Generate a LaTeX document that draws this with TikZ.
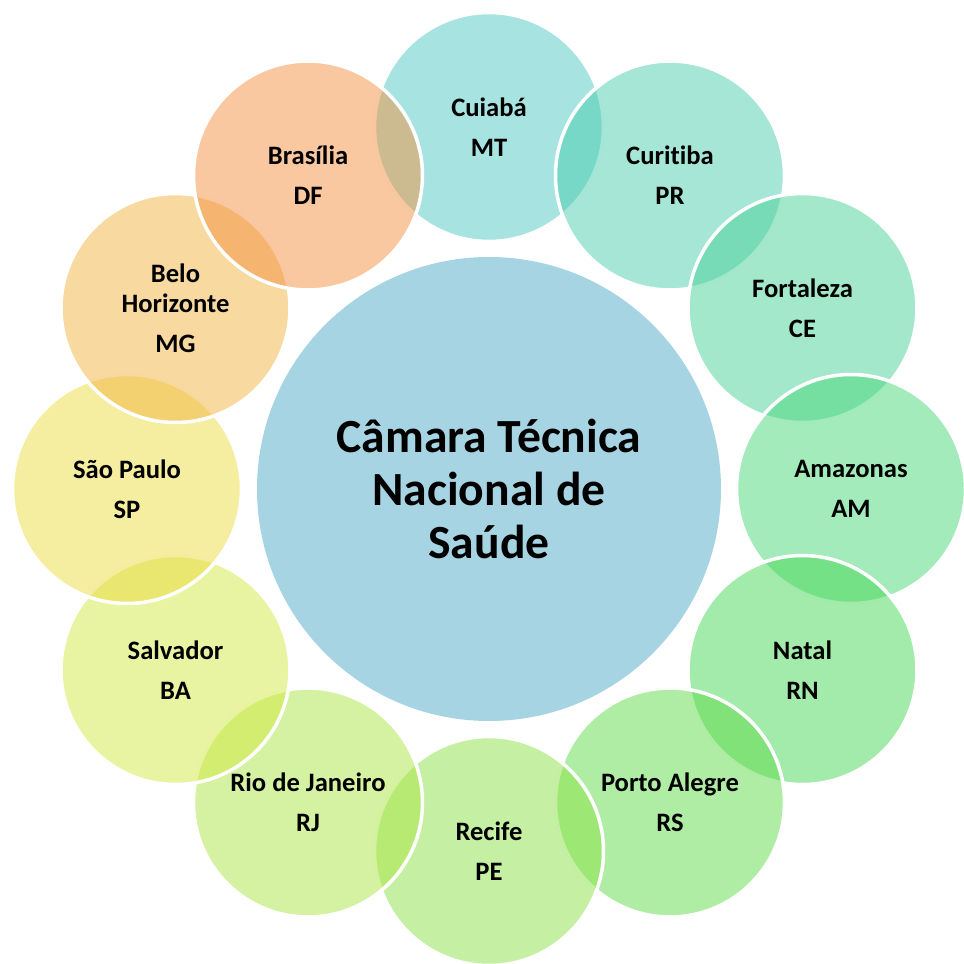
\documentclass[tikz,border=0pt]{standalone}
\usepackage{fontspec}
\setmainfont{Carlito}[Ligatures=NoCommon]
\definecolor{cMT}{RGB}{77,199,195}
\definecolor{cPR}{RGB}{75,205,173}
\definecolor{cCE}{RGB}{73,209,151}
\definecolor{cAM}{RGB}{71,215,119}
\definecolor{cRN}{RGB}{71,215,85}
\definecolor{cRS}{RGB}{97,219,73}
\definecolor{cPE}{RGB}{139,225,71}
\definecolor{cRJ}{RGB}{171,229,69}
\definecolor{cBA}{RGB}{209,233,67}
\definecolor{cSP}{RGB}{235,219,65}
\definecolor{cMG}{RGB}{241,181,65}
\definecolor{cDF}{RGB}{243,145,65}
\definecolor{cCenter}{RGB}{166,212,227}
\begin{document}
\begin{tikzpicture}[
  city/.style={circle, minimum size=229pt, inner sep=0pt, fill=#1, fill opacity=0.5,
    text opacity=1, draw=white, line width=3.5pt, align=center,
    font=\fontsize{26.6}{30}\selectfont\bfseries},
  hub/.style={circle, minimum size=464pt, inner sep=0pt, fill=cCenter, align=center,
    font=\fontsize{47.6}{53}\selectfont\bfseries}
]
\useasboundingbox (-489pt,-475pt) rectangle (475pt,489pt);
\node[hub] (center) at (0,0) {Câmara Técnica\\Nacional de\\Saúde};
\node[city=cMT] (mt) at (90:362pt) {Cuiabá\\[10pt]MT};
\node[city=cPR] (pr) at (60:362pt) {Curitiba\\[10pt]PR};
\node[city=cCE] (ce) at (30:362pt) {Fortaleza\\[10pt]CE};
\node[city=cAM] (am) at (0:362pt) {Amazonas\\[10pt]AM};
\node[city=cRN] (rn) at (-30:362pt) {Natal\\[10pt]RN};
\node[city=cRS] (rs) at (-60:362pt) {Porto Alegre\\[10pt]RS};
\node[city=cPE] (pe) at (-90:362pt) {Recife\\[10pt]PE};
\node[city=cRJ] (rj) at (-120:362pt) {Rio de Janeiro\\[10pt]RJ};
\node[city=cBA] (ba) at (-150:362pt) {Salvador\\[10pt]BA};
\node[city=cSP] (sp) at (180:362pt) {São Paulo\\[10pt]SP};
\node[city=cMG] (mg) at (150:362pt) {Belo\\Horizonte\\[10pt]MG};
\node[city=cDF] (df) at (120:362pt) {Brasília\\[10pt]DF};
\end{tikzpicture}
\end{document}
